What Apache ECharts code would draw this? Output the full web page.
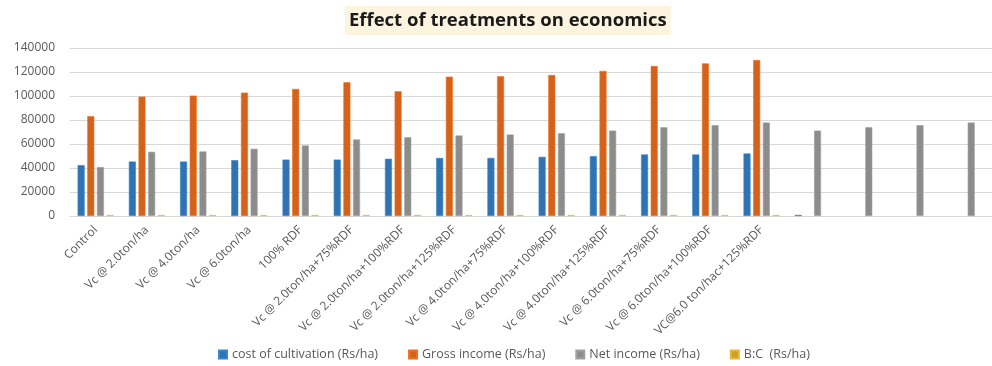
<!DOCTYPE html>
<html>
<head>
<meta charset="utf-8">
<script src="https://cdn.jsdelivr.net/npm/echarts@6/dist/echarts.min.js"></script>
<style>
  html, body { margin: 0; padding: 0; background: #fff; }
  #main { width: 992px; height: 366px; }
</style>
</head>
<body>
<div id="main"></div>
<script>
// treatments (the last 4 slots have no label in the original)
var categories = [
  'Control', 'Vc @ 2.0ton/ha', 'Vc @ 4.0ton/ha', 'Vc @ 6.0ton/ha', '100% RDF',
  'Vc @ 2.0ton/ha+75%RDF', 'Vc @ 2.0ton/ha+100%RDF', 'Vc @ 2.0ton/ha+125%RDF',
  'Vc @ 4.0ton/ha+75%RDF', 'Vc @ 4.0ton/ha+100%RDF', 'Vc @ 4.0ton/ha+125%RDF',
  'Vc @ 6.0ton/ha+75%RDF', 'Vc @ 6.0ton/ha+100%RDF', 'VC@6.0 ton/hac+125%RDF',
  '', ' ', '  ', '   '
];
var costCultivation = [42400, 45400, 45400, 46500, 47000, 47000, 47700, 48400, 48400, 49300, 49900, 51300, 51300, 52100, 900, null, null, null];
var grossIncome = [83200, 99500, 100300, 102800, 105900, 111400, 104000, 116100, 116400, 117500, 120900, 125000, 127200, 130000, null, null, null, null];
var netIncome = [40800, 53500, 53800, 56000, 58800, 63800, 65700, 67100, 67900, 69000, 71200, 74000, 75700, 77900, 71200, 74000, 75700, 77900];
var bcRatio = [1.96, 2.19, 2.21, 2.21, 2.25, 2.37, 2.18, 2.39, 2.40, 2.38, 2.42, 2.44, 2.48, 2.50, null, null, null, null];

var chart = echarts.init(document.getElementById('main'));
var textColor = '#595959';
var font = '"Open Sans", "Noto Sans", sans-serif';

function barSeries(name, data, color, extra) {
  var s = {
    name: name,
    type: 'bar',
    data: data,
    barWidth: 7,
    barGap: '38%',
    itemStyle: { color: color, borderColor: echarts.color.lift(color, -0.15), borderWidth: 0.6 }
  };
  for (var k in extra) s[k] = extra[k];
  return s;
}

var option = {
  animation: false,
  textStyle: { fontFamily: font },
  title: {
    text: 'Effect of treatments on economics',
    left: 345,
    top: 6,
    padding: [5, 4, 5, 4],
    backgroundColor: '#fdf4e0',
    textStyle: { fontSize: 18.5, fontWeight: 'bold', color: '#1a1a1a', fontFamily: font }
  },
  legend: {
    bottom: 0,
    left: 213,
    itemWidth: 8,
    itemHeight: 8,
    itemGap: 30,
    icon: 'rect',
    textStyle: { fontSize: 12.5, color: textColor, fontFamily: font },
    data: ['cost of cultivation (Rs/ha)', 'Gross income (Rs/ha)', 'Net income (Rs/ha)', 'B:C  (Rs/ha)']
  },
  grid: { left: 70, top: 48, width: 929, height: 168 },
  xAxis: {
    type: 'category',
    data: categories,
    axisLine: { lineStyle: { color: '#d9d9d9' } },
    axisTick: { show: false },
    axisLabel: { interval: 0, rotate: 45, fontSize: 12, color: textColor, margin: 12 }
  },
  yAxis: {
    type: 'value',
    min: 0,
    max: 140000,
    interval: 20000,
    axisLine: { show: false },
    axisTick: { show: false },
    splitLine: { lineStyle: { color: '#d9d9d9' } },
    axisLabel: { fontSize: 12, color: textColor, margin: 15, formatter: function (v) { return String(v); } }
  },
  series: [
    barSeries('cost of cultivation (Rs/ha)', costCultivation, '#2f73b3', {barCategoryGap: '26%'}),
    barSeries('Gross income (Rs/ha)', grossIncome, '#d3631c', {}),
    barSeries('Net income (Rs/ha)', netIncome, '#8c8c8c', {}),
    barSeries('B:C  (Rs/ha)', bcRatio, '#c9a02a', {barMinHeight: 1})
  ]
};
chart.setOption(option);
</script>
</body>
</html>
